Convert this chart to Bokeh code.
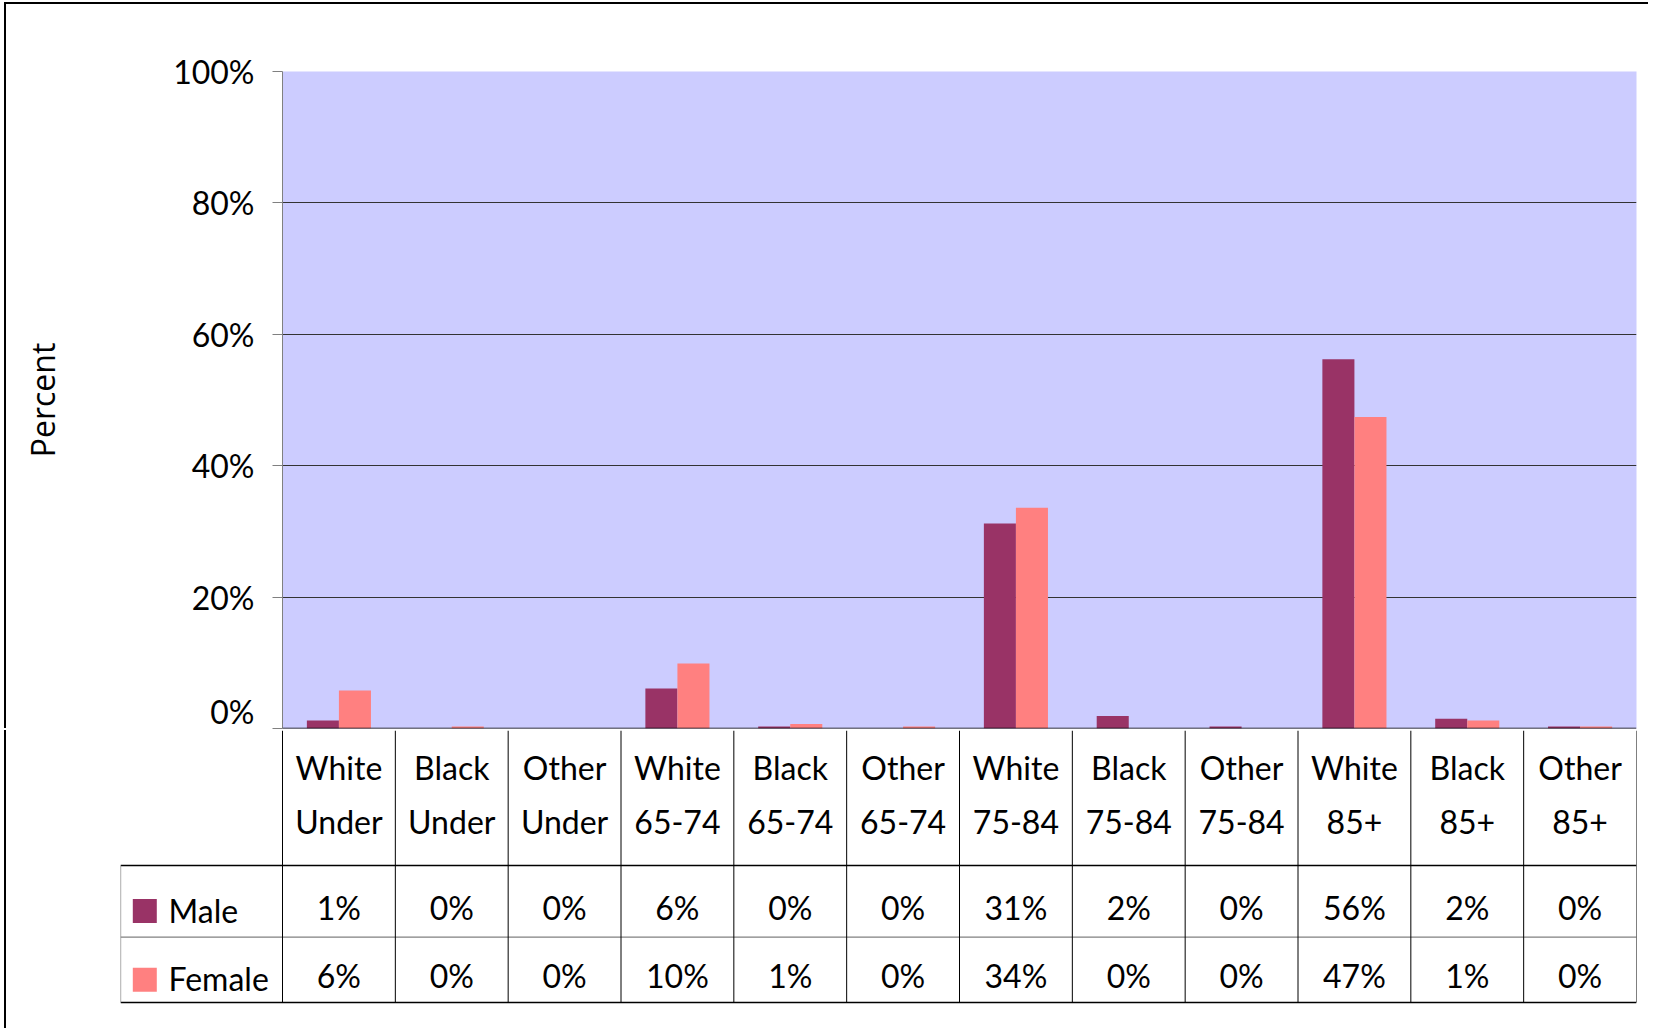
from bokeh.plotting import figure
from bokeh.models import Range1d, FixedTicker, PrintfTickFormatter, ColumnDataSource, Span
from bokeh.core.properties import value
from bokeh.embed import file_html
from bokeh.resources import INLINE

# ---------------- data ----------------
categories = ["White\nUnder", "Black\nUnder", "Other\nUnder",
              "White\n65-74", "Black\n65-74", "Other\n65-74",
              "White\n75-84", "Black\n75-84", "Other\n75-84",
              "White\n85+", "Black\n85+", "Other\n85+"]
male = [1.2, 0.0, 0.0, 6.1, 0.3, 0.0, 31.2, 1.9, 0.3, 56.2, 1.5, 0.3]
female = [5.8, 0.3, 0.0, 9.9, 0.7, 0.3, 33.6, 0.0, 0.0, 47.4, 1.2, 0.3]
series_names = ["Male", "Female"]
y_ticks = [0, 20, 40, 60, 80, 100]

# ---------------- style / layout ----------------
FONT = "Lato"
FS = "32px"
MALE_C = "#993366"
FEMALE_C = "#FF8080"
SERIES_C = [MALE_C, FEMALE_C]
BG = "#CCCCFF"
ML, MT = 6, 4                 # page offset of the chart block
W = 1644
n = len(categories)
PLOT_L, PLOT_R, PLOT_T, PLOT_B = 282, 1636, 71, 728   # plot area on the page
TABLE_L = 120
px_per_cat = (PLOT_R - PLOT_L) / n
centers = [i + 0.5 for i in range(n)]
BAR_W = 0.284
TXT_SHIFT = -13               # baseline correction for text glyphs

# ---------------- bar chart ----------------
top_h = PLOT_B - MT + 2
top = figure(width=W, height=top_h, x_range=Range1d(0, n), y_range=Range1d(0, 100),
             output_backend="svg", toolbar_location=None, x_axis_location=None,
             min_border_left=PLOT_L - ML, min_border_right=W - (PLOT_R - ML),
             min_border_top=PLOT_T - MT, min_border_bottom=2,
             background_fill_color=BG, border_fill_color="white",
             outline_line_color=None,
             styles={"margin-left": f"{ML}px", "margin-top": f"{MT}px",
                     "box-shadow": "-2px -2px 0 0 black"})

src = ColumnDataSource(dict(xm=[c - BAR_W / 2 for c in centers],
                            xf=[c + BAR_W / 2 for c in centers],
                            male=male, female=female))
top.vbar(x="xm", top="male", width=BAR_W, source=src, fill_color=MALE_C, line_color=None)
top.vbar(x="xf", top="female", width=BAR_W, source=src, fill_color=FEMALE_C, line_color=None)

yax = top.yaxis[0]
yax.ticker = FixedTicker(ticks=y_ticks)
yax.formatter = PrintfTickFormatter(format="%d%%")
yax.axis_line_color = "#808080"
yax.major_tick_out = 10
yax.major_tick_in = 0
yax.major_tick_line_color = "#808080"
yax.minor_tick_line_color = None
yax.major_label_text_font = FONT
yax.major_label_text_font_size = FS
yax.major_label_text_color = "black"
yax.major_label_standoff = 18
yax.axis_label = "Percent"
yax.axis_label_text_font = "Open Sans"
yax.axis_label_text_font_size = "32px"
yax.axis_label_text_font_style = "normal"
yax.axis_label_text_color = "black"
yax.axis_label_standoff = 106

top.xgrid.visible = False
top.ygrid.ticker = FixedTicker(ticks=y_ticks)
top.ygrid.grid_line_color = "#333333"
top.add_layout(Span(location=0, dimension="width", line_color="black", line_width=1.5))

# ---------------- data table (rows below the plot) ----------------
# vertical unit: pixels below the 0% line
HDR_B, DIV_Y, TBL_B = 137, 208.7, 274
x0 = -(PLOT_L - TABLE_L) / px_per_cat
bot_top = MT + top_h
BOT_H = 298
bot = figure(width=W, height=BOT_H, x_range=Range1d(x0, n),
             y_range=Range1d(TBL_B + 2, bot_top - PLOT_B),
             output_backend="svg", toolbar_location=None,
             x_axis_location=None, y_axis_location=None,
             min_border_left=TABLE_L - ML, min_border_right=W - (PLOT_R - ML),
             min_border_top=0, min_border_bottom=BOT_H - (TBL_B + 2 - (bot_top - PLOT_B)),
             background_fill_color="white", border_fill_color="white",
             outline_line_color=None,
             styles={"margin-left": f"{ML}px", "box-shadow": "-2px 0 0 0 black"})
bot.grid.visible = False

# table rules
bot.segment(x0=[x0, x0, x0], x1=[n, n, n], y0=[HDR_B, DIV_Y, TBL_B], y1=[HDR_B, DIV_Y, TBL_B],
            line_color=["black", "#808080", "black"], line_width=1.3)
bot.segment(x0=[x0], x1=[x0], y0=[HDR_B], y1=[TBL_B], line_color="#808080", line_width=1.3)
bot.segment(x0=list(range(n + 1)), x1=list(range(n + 1)),
            y0=[bot_top - PLOT_B] * (n + 1), y1=[TBL_B] * (n + 1),
            line_color="black", line_width=1.0)

line1 = [c.split("\n")[0] for c in categories]
line2 = [c.split("\n")[1] for c in categories]
txt = dict(text_align="center", text_baseline="alphabetic", text_font=value(FONT),
           text_font_size=FS, text_color="black")
bot.text(x=centers, y=[52 + TXT_SHIFT] * n, text=line1, **txt)
bot.text(x=centers, y=[106 + TXT_SHIFT] * n, text=line2, **txt)

male_lab = [f"{round(v)}%" for v in male]
female_lab = [f"{round(v)}%" for v in female]
bot.text(x=centers, y=[192 + TXT_SHIFT] * n, text=male_lab, **txt)
bot.text(x=centers, y=[260 + TXT_SHIFT] * n, text=female_lab, **txt)

# row keys (legend of the data table)
key_x = x0 + (144.3 - TABLE_L) / px_per_cat
lab_x = x0 + (168 - TABLE_L) / px_per_cat
bot.rect(x=[key_x, key_x], y=[182.5, 251.3], width=24, height=24,
         width_units="screen", height_units="screen",
         fill_color=SERIES_C, line_color=None)
bot.text(x=[lab_x, lab_x], y=[194.5 + TXT_SHIFT, 262.7 + TXT_SHIFT], text=series_names,
         text_align="left", text_baseline="alphabetic", text_font=value(FONT),
         text_font_size=FS, text_color="black")

with open("out.html", "w") as f:
    f.write(file_html([top, bot], INLINE))
